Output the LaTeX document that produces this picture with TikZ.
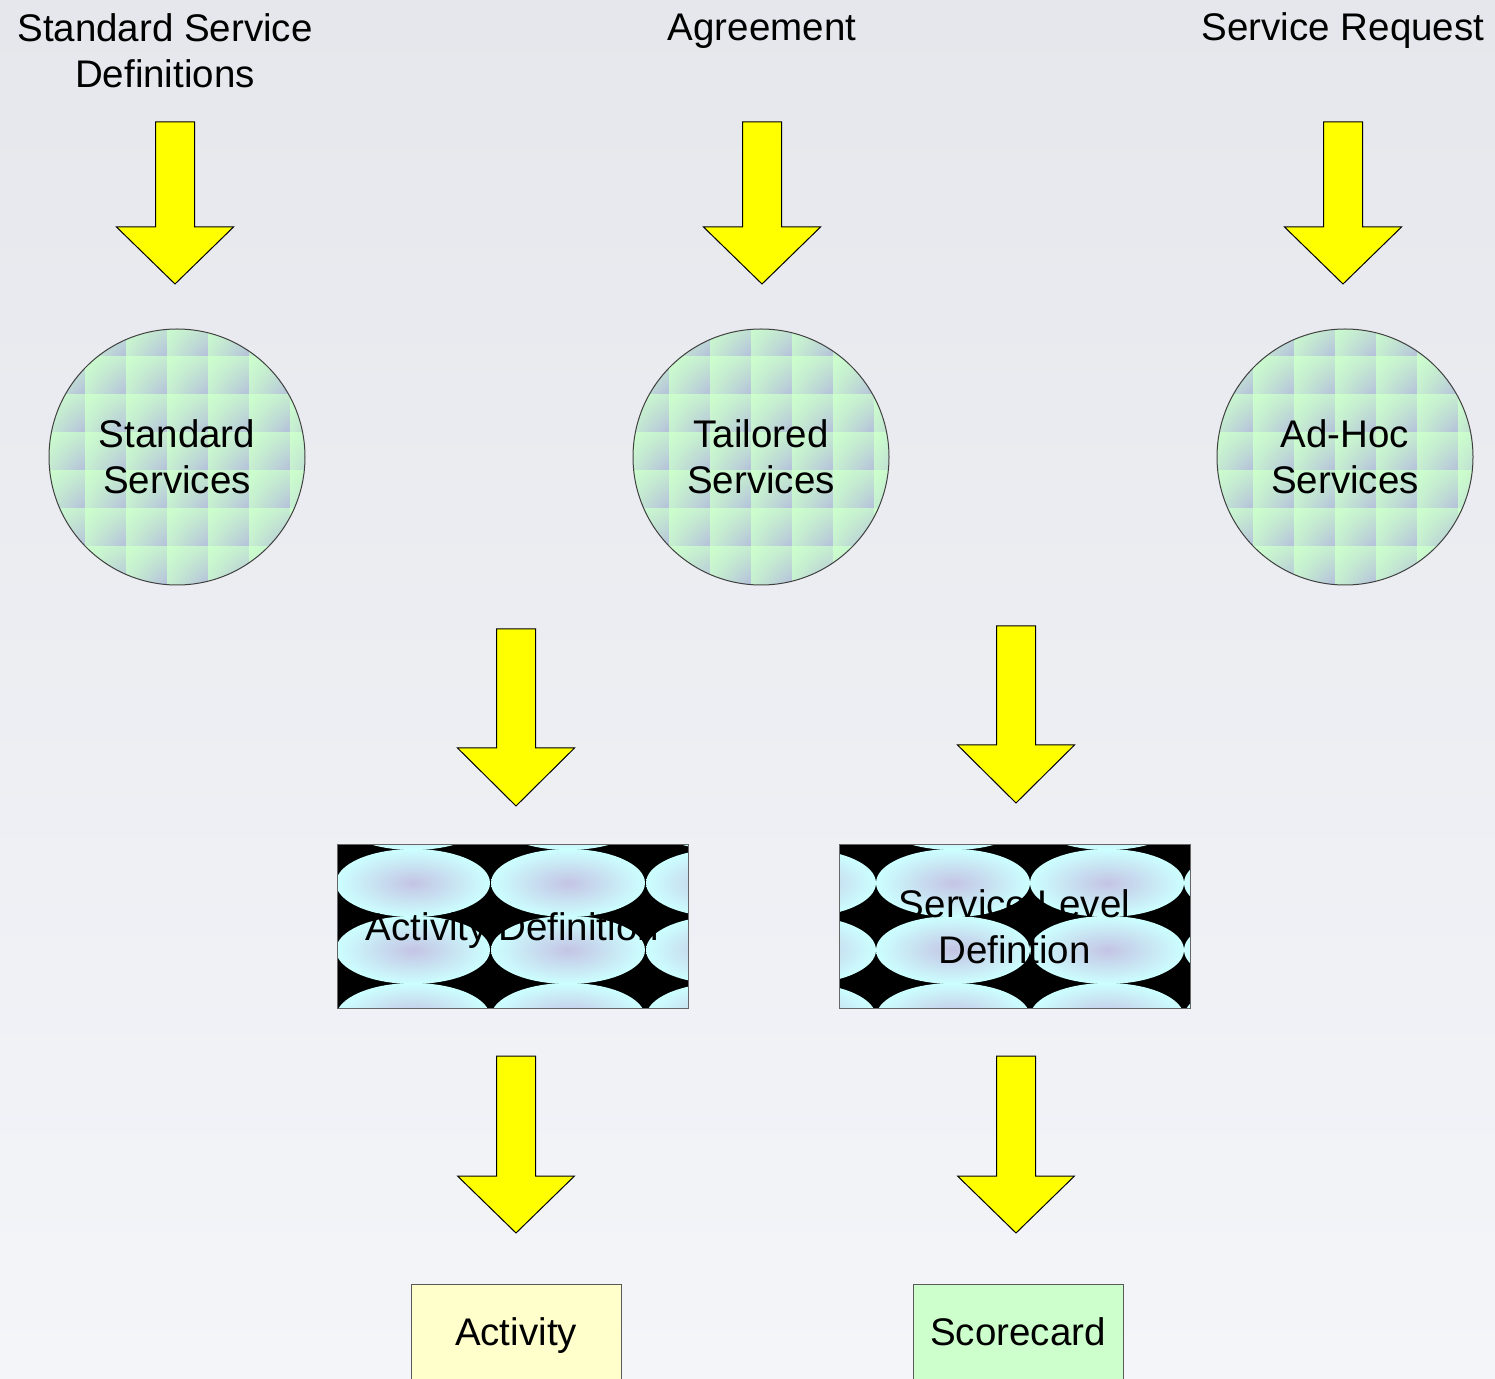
\documentclass[tikz,border=0pt]{standalone}
\usepackage{fontspec}
\setmainfont{Liberation Sans}
\usetikzlibrary{positioning,shadings}

\definecolor{bgtop}{HTML}{E5E7EC}
\definecolor{bgbot}{HTML}{F4F5F9}
\definecolor{tilegreen}{HTML}{CCFFCC}
\definecolor{tileblue}{HTML}{B4BEDC}
\definecolor{ovalcyan}{HTML}{CCFFFF}
\definecolor{ovalmid}{HTML}{C4C4E4}
\definecolor{actfill}{HTML}{FFFFCC}
\definecolor{scorefill}{HTML}{CCFFCC}
\definecolor{arrowfill}{HTML}{FFFF00}

\tikzset{
  lbl/.style={align=center, font=\fontsize{19.25}{23}\selectfont, inner sep=0pt},
  yarrow/.style={fill=arrowfill, draw=black, line width=0.5pt, line join=miter},
  svc/.style={lbl, circle, draw=black!75, line width=0.5pt, minimum size=128pt,
    path picture={
      \foreach \i in {0,...,6}
        \foreach \j in {0,...,7}
          \shade[upper left=tilegreen, upper right=tilegreen!70!tileblue,
                 lower left=tilegreen!75!tileblue, lower right=tileblue]
            ([shift={(-66.5pt+\i*20.5pt, 69pt-\j*19pt)}]path picture bounding box.center)
            rectangle ++(20.5pt,-19pt);
    }},
  ovals/.style={lbl, rectangle, fill=black, draw=black!60, line width=0.5pt,
    minimum width=175.5pt, minimum height=81.5pt,
    path picture={
      \foreach \cx in {#1}
        \foreach \cy in {55.25,21.75,-11.75,-45.25}
          \shade[inner color=ovalmid, outer color=ovalcyan]
            ([shift={(\cx pt,\cy pt)}]path picture bounding box.center)
            ellipse (38.5pt and 17pt);
    }},
  result/.style={lbl, rectangle, draw=black!65, line width=0.5pt,
    minimum width=105pt, minimum height=48pt, text depth=0pt}
}

\begin{document}
\begin{tikzpicture}[x=0.5pt, y=-0.5pt]

    % Sfondo
    \useasboundingbox (0,0) rectangle (1495,1379);
    \clip (0,0) rectangle (1495,1379);
    \shade[top color=bgtop, bottom color=bgbot] (0,0) rectangle (1495,1379);

    % Sorgenti
    \node[lbl] (stdDefs) at (165,51) {Standard Service\\Definitions};
    \node[lbl, text depth=0pt] (agreement) at (762,27) {Agreement};
    \node[lbl, text depth=0pt] (svcRequest) at (1343,27) {Service Request};

    % Frecce
    \foreach \x/\yt/\yh/\yp in {175/122/227/284, 762/122/227/284, 1343/122/227/284,
                                516/629/748/806, 1016/626/745/803,
                                516/1056/1176/1233, 1016/1056/1176/1233}
        \draw[yarrow] (\x-19.5,\yt) -- (\x+19.5,\yt) -- (\x+19.5,\yh) -- (\x+58.5,\yh)
            -- (\x,\yp) -- (\x-58.5,\yh) -- (\x-19.5,\yh) -- cycle;

    % Servizi
    \node[svc] (stdSvc) at (177,457) {Standard\\Services};
    \node[svc] (tailSvc) at (761,457) {Tailored\\Services};
    \node[svc] (adhocSvc) at (1345,457) {Ad-Hoc\\Services};

    % Definizioni
    \node[ovals={-127.25,-49.75,27.75,105.25}, text depth=0pt] (actDef) at (512.5,926.5) {Activity Definition};
    \node[ovals={-107.75,-30.75,46.25,123.25}] (slDef) at (1014.5,926.5) {Service Level\\Defintion};

    % Risultati
    \node[result, fill=actfill] (activity) at (516,1332) {Activity};
    \node[result, fill=scorefill] (scorecard) at (1018,1332) {Scorecard};

\end{tikzpicture}
\end{document}
